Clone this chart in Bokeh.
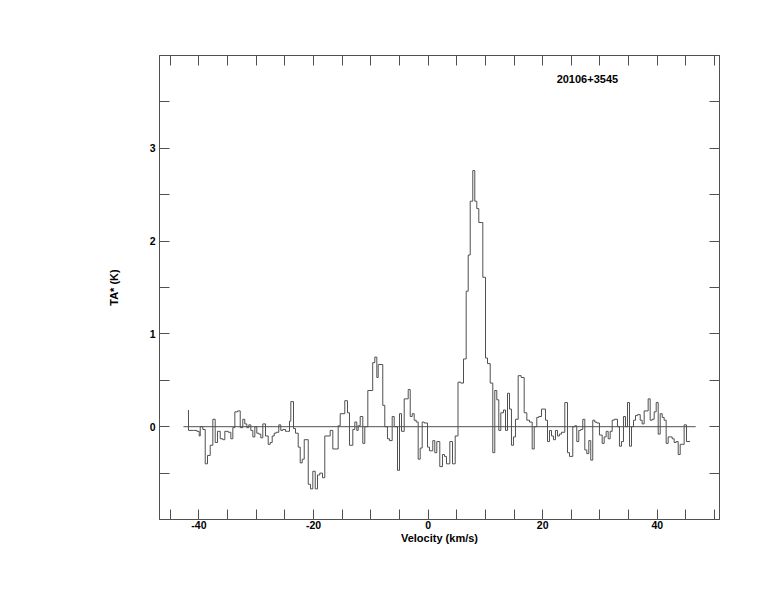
from bokeh.plotting import figure
from bokeh.models import Range1d, LinearAxis, FixedTicker, Label
from bokeh.embed import file_html
from bokeh.resources import INLINE

# ---- data (velocity of each channel's left edge, km/s; antenna temperature, K)
vel_edges = [
    -41.82, -41.82, -40.94, -40.37, -39.95, -39.77, -39.32, -38.90, -38.50, -38.03,
    -37.57, -37.16, -36.75, -36.28, -35.83, -35.48, -34.89, -34.43, -34.08, -33.73,
    -33.26, -32.79, -32.34, -31.99, -31.64, -31.29, -30.94, -30.59, -30.24, -29.90,
    -29.55, -29.20, -28.85, -28.38, -27.91, -27.56, -27.21, -26.86, -26.51, -26.06,
    -25.71, -25.36, -24.89, -24.54, -24.19, -23.96, -23.49, -23.14, -22.67, -22.32,
    -21.97, -21.62, -20.92, -20.52, -20.12, -19.70, -19.30, -18.90, -18.43, -18.03,
    -17.09, -16.63, -15.69, -15.34, -14.54, -14.07, -13.72, -13.14, -12.79, -12.44,
    -12.20, -11.85, -11.40, -11.05, -10.52, -9.67, -9.30, -8.95, -8.71, -7.91,
    -7.56, -7.09, -6.74, -6.27, -5.92, -5.34, -4.99, -4.64, -4.17, -3.47,
    -3.12, -2.77, -2.43, -2.08, -1.73, -1.38, -1.03, -0.68, -0.10, 0.24,
    0.82, 1.17, 1.52, 2.04, 2.51, 2.86, 3.21, 3.79, 4.26, 4.73,
    5.22, 5.71, 6.18, 6.65, 7.00, 7.35, 7.80, 8.15, 8.50, 8.85,
    9.55, 10.02, 10.37, 10.84, 11.29, 11.64, 11.99, 12.34, 12.69, 13.16,
    13.51, 13.86, 14.21, 14.55, 14.90, 15.25, 15.72, 16.25, 16.77, 17.23,
    17.70, 18.17, 18.52, 18.97, 19.32, 19.79, 20.49, 20.84, 21.19, 21.54,
    21.88, 22.23, 22.58, 22.93, 23.28, 23.86, 24.33, 24.68, 25.25, 25.60,
    25.95, 26.30, 26.65, 27.00, 27.35, 27.70, 28.05, 28.39, 28.74, 29.09,
    29.44, 29.91, 30.38, 30.73, 31.08, 31.43, 31.78, 32.13, 32.48, 33.05,
    33.40, 33.75, 34.10, 34.45, 34.80, 35.15, 35.50, 35.85, 36.20, 36.54,
    37.02, 37.36, 37.71, 38.41, 38.76, 39.11, 39.46, 39.81, 40.16, 40.51,
    40.86, 41.20, 41.55, 41.90, 42.25, 42.60, 42.95, 43.30, 43.65, 44.00,
    44.35, 44.69, 45.10,
]
vel_end = 45.71

ta_values = [
    0.18, -0.04, -0.04, -0.05, -0.10, 0.00, -0.03, -0.40, -0.31, -0.20,
    0.08, -0.17, -0.05, -0.13, -0.14, -0.05, -0.06, -0.13, -0.01, 0.16,
    0.17, -0.01, 0.08, 0.03, -0.01, 0.02, -0.04, -0.11, 0.00, -0.07,
    -0.08, -0.12, 0.03, -0.10, -0.19, -0.17, -0.10, -0.07, -0.06, 0.02,
    -0.04, -0.03, -0.05, -0.05, 0.06, 0.27, -0.02, -0.07, -0.22, -0.39,
    -0.35, -0.14, -0.62, -0.67, -0.48, -0.67, -0.52, -0.50, -0.55, -0.10,
    -0.04, -0.24, 0.01, 0.14, 0.28, 0.15, -0.20, -0.03, 0.05, -0.04,
    0.01, 0.11, -0.18, 0.00, 0.39, 0.69, 0.75, 0.53, 0.67, 0.23,
    0.00, -0.13, -0.15, 0.11, 0.00, -0.47, 0.14, -0.05, 0.30, 0.40,
    0.11, 0.14, 0.07, 0.05, -0.35, -0.23, 0.05, 0.04, -0.22, -0.26,
    -0.15, -0.28, -0.16, -0.43, -0.30, -0.32, -0.40, -0.16, -0.40, -0.10,
    0.48, 0.47, 0.73, 1.46, 1.85, 2.43, 2.76, 2.43, 2.35, 2.20,
    1.61, 0.74, 0.68, 0.47, -0.28, 0.39, 0.29, -0.04, 0.15, 0.18,
    -0.04, 0.36, 0.19, -0.20, -0.11, 0.08, 0.55, 0.53, 0.15, 0.07,
    0.05, -0.24, 0.00, 0.10, 0.11, 0.19, 0.07, -0.16, -0.04, -0.10,
    -0.14, -0.04, -0.10, -0.08, -0.06, 0.26, -0.28, -0.32, 0.00, 0.01,
    -0.16, -0.04, -0.03, 0.08, -0.25, -0.29, -0.15, -0.36, 0.07, 0.05,
    0.04, -0.09, -0.18, -0.11, -0.05, -0.13, -0.05, 0.07, 0.08, 0.00,
    -0.21, -0.16, 0.11, 0.00, 0.26, -0.21, 0.00, 0.07, 0.12, 0.13,
    0.07, 0.03, 0.17, 0.30, 0.07, 0.08, 0.16, 0.26, -0.08, 0.14,
    0.10, 0.07, -0.18, -0.11, -0.11, -0.13, -0.17, -0.16, -0.30, -0.19,
    -0.19, 0.02, -0.16,
]

baseline_v = [-42.7, 46.7]
baseline_t = [0.0, 0.0]

x_major = [-40, -20, 0, 20, 40]
x_major_labels = ["-40", "-20", "0", "20", "40"]
x_minor = [-45, -35, -30, -25, -15, -10, -5, 5, 10, 15, 25, 30, 35, 45, 50]
y_major = [0, 1, 2, 3]
y_major_labels = ["0", "1", "2", "3"]
y_minor = [-0.5, 0.5, 1.5, 2.5, 3.5]

source_name = "20106+3545"
x_title = "Velocity (km/s)"
y_title = "TA* (K)"

LINE = "#505050"
FONT = "Liberation Sans"

p = figure(
    frame_width=560, frame_height=464,
    x_range=Range1d(-46.88, 50.86), y_range=Range1d(-1.0, 4.0),
    output_backend="svg", toolbar_location=None,
    min_border_left=159, min_border_top=55, min_border_right=40, min_border_bottom=70,
    x_axis_label=x_title, y_axis_label=y_title,
)
p.background_fill_color = "white"
p.border_fill_color = "white"
p.outline_line_color = LINE
p.grid.visible = False

xs = list(vel_edges) + [vel_end]
ys = list(ta_values) + [ta_values[-1]]
p.step(xs, ys, mode="after", line_color=LINE, line_width=1)
p.line(baseline_v, baseline_t, line_color=LINE, line_width=1)


def style_axis(ax, major, minor, labels):
    ax.ticker = FixedTicker(ticks=major, minor_ticks=minor)
    ax.axis_line_color = LINE
    ax.major_tick_line_color = LINE
    ax.minor_tick_line_color = LINE
    ax.major_tick_in = 10
    ax.major_tick_out = 0
    ax.minor_tick_in = 10
    ax.minor_tick_out = 0
    ax.major_label_text_font = FONT
    ax.major_label_text_font_style = "bold"
    ax.major_label_text_font_size = "10.5px"
    ax.major_label_text_color = "black"
    if labels is None:
        ax.major_label_overrides = {t: "" for t in major}
        ax.major_label_standoff = 0
    else:
        ax.major_label_overrides = {t: s for t, s in zip(major, labels)}
    ax.axis_label_text_font = FONT
    ax.axis_label_text_font_style = "bold"
    ax.axis_label_text_font_size = "11px"
    ax.axis_label_text_color = "black"


style_axis(p.xaxis[0], x_major, x_minor, x_major_labels)
style_axis(p.yaxis[0], y_major, y_minor, y_major_labels)
p.xaxis[0].major_label_standoff = 1
p.xaxis[0].axis_label_standoff = 0
p.yaxis[0].major_label_standoff = 4
p.yaxis[0].axis_label_standoff = 27

top = LinearAxis()
style_axis(top, x_major, x_minor, None)
p.add_layout(top, "above")
right = LinearAxis()
style_axis(right, y_major, y_minor, None)
p.add_layout(right, "right")

p.add_layout(Label(x=27.8, y=3.75, text=source_name, text_align="center",
                   text_baseline="middle", text_font=FONT, text_font_style="bold",
                   text_font_size="11px", text_color="black"))

open("out.html", "w").write(file_html(p, INLINE))
